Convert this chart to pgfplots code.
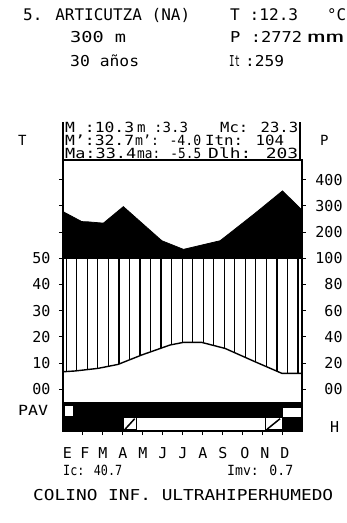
\documentclass[border=0pt]{standalone}
\usepackage{fontspec}
\setmainfont{DejaVu Sans Mono}
\usepackage{graphicx}
\usepackage{pgfplots}
\usepackage{pgfplotstable}
\pgfplotsset{compat=1.18}

\pgfplotstableread{
x T
0 6.7
0.6 7.0
1.76 8.0
2.76 9.5
3.95 13.1
5.37 16.9
6.03 17.9
6.97 17.9
8.14 15.6
9.65 10.5
10.99 6.1
12 6.1
}\temptab

\pgfplotstableread{
x P
0 278
0.94 240
1.26 239
2.03 234
3.03 297
4.96 167
6.05 134
7.89 167
8.48 202
9.65 272
11.02 357
12 284
}\preciptab

\newcommand\tx[5]{\node[anchor=base west,inner sep=0pt,font=\fontsize{#4}{#4}\selectfont] at (#1pt,-#3pt) {\resizebox{#2pt}{\height}{#5}};}
\newcommand\mo[2]{\node[anchor=base,inner sep=0pt,font=\fontsize{15}{15}\selectfont] at (#1pt,-458pt) {#2};}

\begin{document}
\begin{tikzpicture}
\useasboundingbox (0pt,0pt) rectangle (346pt,-523pt);
\begin{axis}[
  at={(63pt,-431pt)}, anchor=south west,
  scale only axis, width=239pt, height=271pt,
  xmin=0, xmax=12, ymin=-15.9, ymax=87.5,
  clip=false, axis on top,
  axis line style={line width=1.2pt},
  tick align=outside, major tick length=4pt,
  tick style={line width=1pt, black},
  xtick={1,2,3,4,5,6,7,8,9,10,11}, xticklabels={}, xtick pos=bottom,
  ytick={0,10,20,30,40,50,60,70,80}, yticklabels={00,10,20,30,40,50,{},{},{}}, ytick pos=left,
  /pgf/number format/assume math mode=true,
  yticklabel style={font=\fontsize{15}{15}\selectfont, xshift=-5pt},
]
% precipitation above 100 mm (black)
\addplot[fill=black, draw=black, line width=0.8pt] table[x=x, y expr={50+(\thisrow{P}-100)/10}] \preciptab \closedcycle;
% humid period: white background then vertical hatching
\addplot[fill=white, draw=none] coordinates {(0,-4.9) (12,-4.9) (12,50) (0,50)} --cycle;
\addplot[ycomb, black, line width=1.2pt, mark=none] coordinates {
(0.16,50) (0.69,50) (1.22,50) (1.75,50) (2.28,50) (2.81,50) (3.34,50) (3.87,50)
(4.39,50) (4.92,50) (5.45,50) (5.98,50) (6.51,50) (7.04,50) (7.57,50) (8.10,50)
(8.63,50) (9.15,50) (9.68,50) (10.21,50) (10.74,50) (11.27,50) (11.80,50)};
\addplot[fill=white, draw=none] table[x=x,y=T] \temptab \closedcycle;
\addplot[fill=white, draw=none] coordinates {(0,-4.9) (12,-4.9) (12,0.5) (0,0.5)} --cycle;
\addplot[black, line width=1.4pt] table[x=x,y=T] \temptab;
\addplot[black, line width=1.2pt] coordinates {(0,50) (12,50)};
% bottom rows
\addplot[fill=black, draw=black] coordinates {(0,-4.9) (12,-4.9) (12,-15.9) (0,-15.9)} --cycle;
\addplot[fill=white, draw=black, line width=0.8pt] coordinates {(0.05,-6.1) (0.5,-6.1) (0.5,-10.3) (0.05,-10.3)} --cycle;
\addplot[fill=white, draw=black, line width=0.8pt] coordinates {(11.0,-7.0) (11.95,-7.0) (11.95,-10.8) (11.0,-10.8)} --cycle;
\addplot[fill=white, draw=black, line width=0.8pt] coordinates {(3.7,-10.8) (10.15,-10.8) (10.15,-15.5) (3.7,-15.5)} --cycle;
\addplot[fill=white, draw=black, line width=1pt] coordinates {(3.03,-10.8) (3.7,-10.8) (3.7,-15.5) (3.03,-15.5)} --cycle;
\addplot[black, line width=1.5pt] coordinates {(3.12,-15.2) (3.6,-11.2)};
\addplot[fill=white, draw=black, line width=1pt] coordinates {(10.15,-10.8) (11.0,-10.8) (11.0,-15.5) (10.15,-15.5)} --cycle;
\addplot[black, line width=1.5pt] coordinates {(10.25,-15.2) (10.9,-11.2)};
\end{axis}
\begin{axis}[
  at={(63pt,-431pt)}, anchor=south west,
  scale only axis, width=239pt, height=271pt,
  xmin=0, xmax=12, ymin=-15.9, ymax=87.5,
  axis x line=none, axis y line*=right,
  axis line style={line width=1.2pt},
  tick align=outside, major tick length=4pt,
  tick style={line width=1pt, black},
  ytick={0,10,20,30,40,50,60,70,80}, yticklabels={00,20,40,60,80,100,200,300,400},
  /pgf/number format/assume math mode=true,
  yticklabel style={font=\fontsize{15}{15}\selectfont, text width=30pt, align=right, xshift=3pt},
]
\addplot[draw=none] coordinates {(0,0) (12,0)};
\end{axis}
% stats box
\draw[line width=1.2pt] (63pt,-122pt) -- (63pt,-160pt);
\draw[line width=1.2pt] (300pt,-122pt) -- (300pt,-160pt);
% header texts
\tx{23}{167}{20}{16}{5. ARTICUTZA (NA)}
\tx{230}{68}{20}{16}{T :12.3}
\tx{327}{19}{20}{16}{°C}
\tx{70}{56}{42}{15}{300 m}
\tx{230}{72}{42}{15}{P :2772}
\tx{307}{37}{42}{15}{mm}
\tx{70}{69}{66}{15}{30 años}
\tx{229}{11}{66}{15}{It}
\tx{245}{39}{66}{15}{:259}
\node[anchor=base west,inner sep=0pt,font=\fontsize{14}{14}\selectfont] at (18pt,-145pt) {T};
\node[anchor=base west,inner sep=0pt,font=\fontsize{14}{14}\selectfont] at (320pt,-145pt) {P};
% stats
\tx{65}{69}{132}{14}{M :10.3}
\tx{137}{51}{132}{14}{m :3.3}
\tx{220}{78}{132}{14}{Mc: 23.3}
\tx{65}{69}{145.5}{14}{M':32.7}
\tx{135}{66}{145.5}{14}{m': -4.0}
\tx{205}{79}{145.5}{14}{Itn: 104}
\tx{65}{71}{158}{14}{Ma:33.4}
\tx{137}{64}{158}{14}{ma: -5.5}
\tx{208}{90}{158}{14}{Dlh: 203}
% side labels
\tx{18}{30}{415}{14}{PAV}
\node[anchor=base west,inner sep=0pt,font=\fontsize{15}{15}\selectfont] at (330pt,-432pt) {H};
% months
\mo{67.5}{E}\mo{85}{F}\mo{103}{M}\mo{123}{A}\mo{143}{M}\mo{163}{J}
\mo{183}{J}\mo{203}{A}\mo{223}{S}\mo{245}{O}\mo{265}{N}\mo{285}{D}
% bottom texts
\tx{63}{59}{475}{14}{Ic: 40.7}
\tx{227}{66}{475}{14}{Imv: 0.7}
\tx{33}{300}{500}{15}{COLINO INF. ULTRAHIPERHUMEDO}
\end{tikzpicture}
\end{document}
